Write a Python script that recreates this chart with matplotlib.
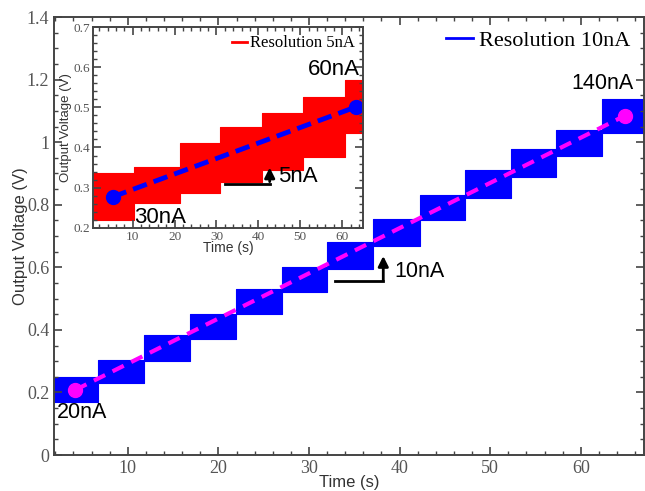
import matplotlib.pyplot as plt
from matplotlib.ticker import MultipleLocator

# main chart: step edges (s) and the band of each current step (V)
main_edges = [1.85, 6.7, 11.8, 16.9, 21.9, 27.0, 32.0, 37.1, 42.2, 47.2, 52.3, 57.3, 62.4, 67.0]
main_low = [0.17, 0.23, 0.30, 0.37, 0.45, 0.52, 0.593, 0.667, 0.75, 0.82, 0.89, 0.955, 1.03]
main_high = [0.25, 0.305, 0.385, 0.45, 0.53, 0.60, 0.68, 0.753, 0.83, 0.91, 0.978, 1.04, 1.138]
main_fit_t = [4.2, 64.9]
main_fit_v = [0.208, 1.085]

# inset: 5nA resolution
ins_edges = [0.5, 10.2, 21.2, 30.8, 40.8, 50.6, 60.7, 65.0]
ins_low = [0.22, 0.262, 0.287, 0.315, 0.344, 0.377, 0.436]
ins_high = [0.337, 0.352, 0.41, 0.45, 0.486, 0.526, 0.568]
ins_fit_t = [5.2, 63.3]
ins_fit_v = [0.277, 0.501]

serif = 'Liberation Serif'
sans = 'Liberation Sans'
plt.rcParams['font.family'] = serif
spine_c = '#444444'
tick_c = '#555555'
label_c = '#333333'


def style_axes(ax, tsize, pad):
    for s in ax.spines.values():
        s.set_color(spine_c)
        s.set_linewidth(1.4)
    ax.tick_params(which='both', direction='in', top=True, right=True,
                   color=spine_c, labelcolor=tick_c, labelsize=tsize, pad=pad)
    ax.tick_params(which='major', length=6, width=1.2)
    ax.tick_params(which='minor', length=3, width=1.0)


def band(ax, edges, low, high, color, label):
    low2 = low + [low[-1]]
    high2 = high + [high[-1]]
    ax.fill_between(edges, low2, high2, step='post', color=color, lw=0.8)
    ax.plot([], [], color=color, lw=2, label=label)


fig = plt.figure(figsize=(6.45, 4.91), dpi=100)
ax = fig.add_axes([0.0837, 0.0733, 0.915, 0.892])

band(ax, main_edges, main_low, main_high, '#0000ff', 'Resolution 10nA')
ax.plot(main_fit_t, main_fit_v, '--', color='#ff00ff', lw=3, dashes=(3, 2),
        marker='o', markersize=10, markevery=[0, 1])

ax.set_xlim(1.85, 67)
ax.set_ylim(0, 1.4)
ax.xaxis.set_major_locator(MultipleLocator(10))
ax.xaxis.set_minor_locator(MultipleLocator(2))
ax.yaxis.set_minor_locator(MultipleLocator(0.05))
ax.set_yticks([0, 0.2, 0.4, 0.6, 0.8, 1.0, 1.2, 1.4],
              ['0', '0.2', '0.4', '0.6', '0.8', '1', '1.2', '1.4'])
style_axes(ax, 13, 3.5)
ax.set_xlabel('Time (s)', family=sans, fontsize=12, color=label_c)
ax.xaxis.set_label_coords(0.5, -0.045)
ax.set_ylabel('Output Voltage (V)', family=sans, fontsize=12, color=label_c)
ax.yaxis.set_label_coords(-0.044, 0.5)

ax.legend(loc='upper right', frameon=False, prop={'family': serif, 'size': 16},
          handlelength=1.2, handletextpad=0.3, borderaxespad=0.2)

ax.text(2.2, 0.135, '20nA', family=sans, fontsize=15.5, va='center')
ax.text(59.0, 1.186, '140nA', family=sans, fontsize=15.5, va='center')
ax.text(39.4, 0.587, '10nA', family=sans, fontsize=15.5, va='center')
ax.plot([32.9, 38.2], [0.555, 0.555], color='k', lw=2)
ax.annotate('', xy=(38.2, 0.645), xytext=(38.2, 0.55),
            arrowprops=dict(arrowstyle='-|>,head_length=0.6,head_width=0.3', lw=2, color='k'))

# inset
ins = fig.add_axes([0.144, 0.536, 0.419, 0.409])
band(ins, ins_edges, ins_low, ins_high, '#ff0000', 'Resolution 5nA')
ins.plot(ins_fit_t, ins_fit_v, '--', color='#0000ff', lw=3.5, dashes=(3, 1.5),
         marker='o', markersize=10, markevery=[0, 1])
ins.set_xlim(0.5, 65)
ins.set_ylim(0.2, 0.7)
ins.set_xticks([10, 20, 30, 40, 50, 60])
ins.xaxis.set_minor_locator(MultipleLocator(2))
ins.yaxis.set_major_locator(MultipleLocator(0.1))
ins.yaxis.set_minor_locator(MultipleLocator(0.02))
style_axes(ins, 9.5, 2)
ins.set_xlabel('Time (s)', family=sans, fontsize=10, color=label_c)
ins.xaxis.set_label_coords(0.5, -0.068)
ins.set_ylabel('Output Voltage (V)', family=sans, fontsize=9.5, color=label_c)
ins.yaxis.set_label_coords(-0.078, 0.5)
ins.legend(loc='upper right', frameon=False, prop={'family': serif, 'size': 12},
           handlelength=0.9, handletextpad=0.2, borderaxespad=0.1)

ins.text(51.8, 0.593, '60nA', family=sans, fontsize=16, va='center')
ins.text(10.4, 0.225, '30nA', family=sans, fontsize=16, va='center')
ins.text(44.7, 0.327, '5nA', family=sans, fontsize=16, va='center')
ins.plot([32.0, 42.7], [0.31, 0.31], color='k', lw=2)
ins.annotate('', xy=(42.7, 0.357), xytext=(42.7, 0.308),
             arrowprops=dict(arrowstyle='-|>,head_length=0.6,head_width=0.3', lw=2, color='k'))

fig.savefig('out.png', dpi=100)
